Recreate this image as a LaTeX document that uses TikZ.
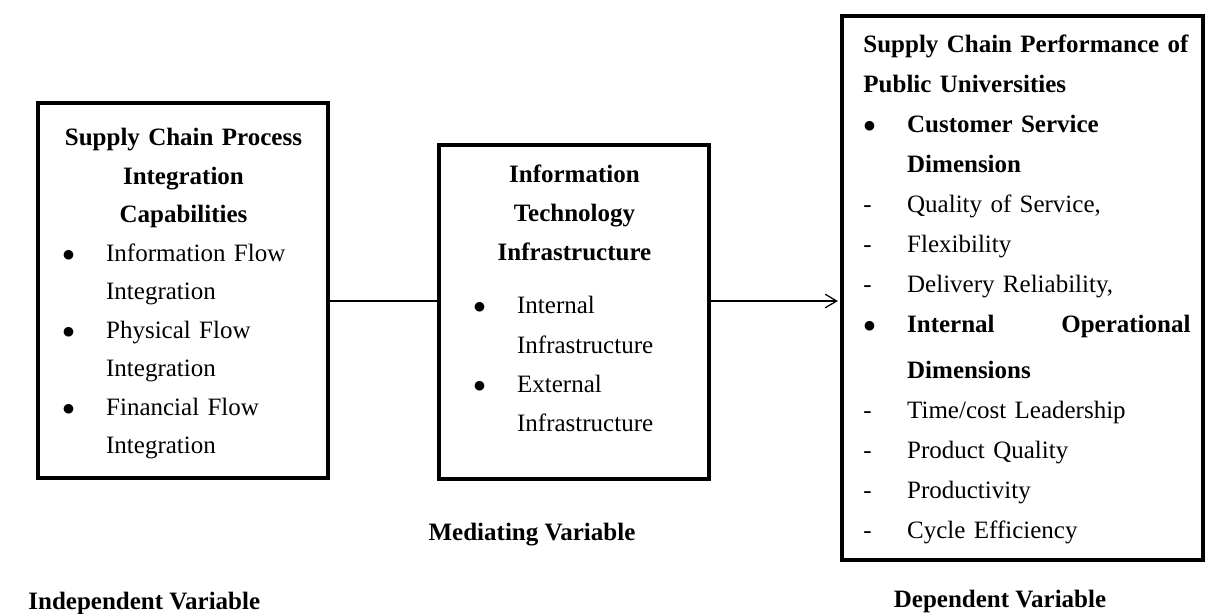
\documentclass[tikz,border=0pt]{standalone}
\usepackage{fontspec}
\setmainfont{Liberation Serif}
\usepackage{tikz}
\usetikzlibrary{calc,arrows.meta}
\setlength{\parindent}{0pt}
\newlength{\indw}
\setlength{\indw}{21pt}
\newcommand{\itm}{\makebox[\indw][l]{$\bullet$}}
\newcommand{\dsh}{\makebox[\indw][l]{-}}
\newcommand{\cnt}{\hspace*{\indw}}
\newcommand{\ctr}[1]{\makebox[\hsize]{\bfseries #1}}
\newcommand{\jst}[1]{\makebox[\hsize][s]{\bfseries #1}}
\newcommand{\fst}{\rule{0pt}{13pt}}

\begin{document}
\begin{tikzpicture}[x=0.48pt,y=-0.48pt]
\tikzstyle{varbox}=[draw,line width=1.9pt,inner sep=0pt]
\tikzstyle{boxtext}=[anchor=north west,inner sep=0pt,align=left]
\tikzstyle{varlabel}=[inner sep=0pt,font=\fontsize{12}{14}\selectfont\bfseries]
\tikzstyle{conn}=[line width=0.6pt]
\useasboundingbox (0,0) rectangle (1208,613);
\node[varbox,minimum width=139.2pt,minimum height=180pt] (ivbox) at (183,290.5) {};
\node[varbox,minimum width=129.6pt,minimum height=160.3pt] (mvbox) at (574,312) {};
\node[varbox,minimum width=173.3pt,minimum height=261.1pt] (dvbox) at (1022.5,288) {};
\node[boxtext,text width=116.2pt,font=\fontsize{12}{18.5}\selectfont] (ivtext) at (62,118) {\fst\ctr{Supply Chain Process}\\ \ctr{Integration}\\ \ctr{Capabilities}\\ \itm Information Flow\\ \cnt Integration\\ \itm Physical Flow\\ \cnt Integration\\ \itm Financial Flow\\ \cnt Integration};
\node[boxtext,text width=97pt,font=\fontsize{12}{18.8}\selectfont] (mvtext) at (473,155) {\fst\ctr{Information}\\ \ctr{Technology}\\ \ctr{Infrastructure}\\[6.7pt] \itm Internal\\ \cnt Infrastructure\\ \itm External\\ \cnt Infrastructure};
\node[boxtext,text width=157pt,font=\fontsize{12}{19.2}\selectfont] (dvtext) at (863,25) {\fst\jst{Supply Chain Performance of}\\ {\bfseries Public Universities}\\ \itm{\bfseries Customer Service}\\ \cnt{\bfseries Dimension}\\ \dsh Quality of Service,\\ \dsh Flexibility\\ \dsh Delivery Reliability,\\ \itm{\bfseries Internal}\hfill{\bfseries Operational}\\[3pt] \cnt{\bfseries Dimensions}\\ \dsh Time/cost Leadership\\ \dsh Product Quality\\ \dsh Productivity\\ \dsh Cycle Efficiency};
\coordinate (mid) at (0,301);
\draw[conn] (ivbox.east |- mid) -- (mvbox.west |- mid);
\draw[conn,-{Straight Barb[length=5.5pt,width=6.5pt]},shorten >=1pt] (mvbox.east |- mid) -- (dvbox.west |- mid);
\node[varlabel,anchor=base west] (ivlabel) at (28,609) {Independent Variable};
\node[varlabel,anchor=base] (mvlabel) at (532,540) {Mediating Variable};
\node[varlabel,anchor=base] (dvlabel) at (1000,607) {Dependent Variable};
\end{tikzpicture}
\end{document}
